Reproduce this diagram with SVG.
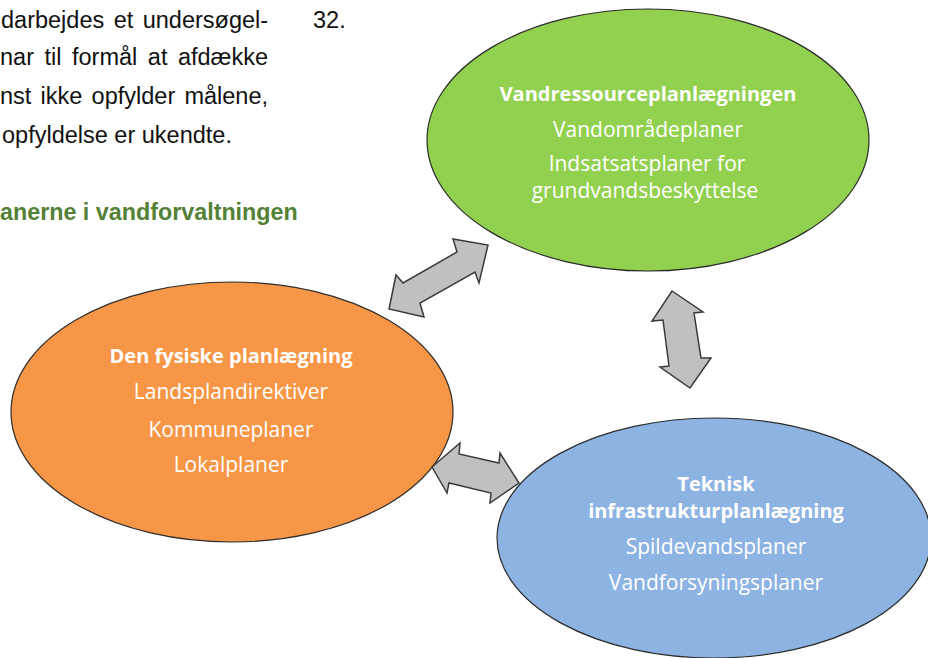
<svg xmlns="http://www.w3.org/2000/svg" width="928" height="658" viewBox="0 0 928 658">
<style>
.body{font-family:"Liberation Sans",Arial,sans-serif;font-size:23.5px;fill:#111}
.head{font-family:"Liberation Sans",Arial,sans-serif;font-size:23.3px;font-weight:bold;fill:#538135}
.ell{stroke:#2b2b2b;stroke-width:1.2}
.t{font-family:"Open Sans",Lato,sans-serif;font-size:21px;fill:#fff;text-anchor:middle}
.tb{font-family:"Open Sans",Lato,sans-serif;font-size:20px;font-weight:bold;fill:#fff;text-anchor:middle}
.arr{fill:#c0c0c0;stroke:#3a3a3a;stroke-width:1.5;stroke-linejoin:miter}
</style>
<rect width="928" height="658" fill="#fff"/>
<g id="page-text">
<text class="body" x="1" y="28" word-spacing="2.9">darbejdes et undersøgel-</text>
<text class="body" x="0" y="65" word-spacing="4">nar til formål at afdække</text>
<text class="body" x="0" y="104" word-spacing="2.7">nst ikke opfylder målene,</text>
<text class="body" x="2" y="143">opfyldelse er ukendte.</text>
<text class="body" x="313" y="28">32.</text>
<text class="head" x="0" y="220">anerne i vandforvaltningen</text>
</g>
<g id="node-vandressource">
<ellipse class="ell" cx="648" cy="140" rx="221" ry="131" fill="#92d050"/>
<text class="tb" x="648" y="101">Vandressourceplanlægningen</text>
<text class="t" x="648" y="137">Vandområdeplaner</text>
<text class="t" x="647" y="171">Indsatsatsplaner for</text>
<text class="t" x="645" y="198">grundvandsbeskyttelse</text>
</g>
<g id="node-fysisk">
<ellipse class="ell" cx="232" cy="412" rx="221" ry="130" fill="#f79646"/>
<text class="tb" x="231" y="363">Den fysiske planlægning</text>
<text class="t" x="231" y="399">Landsplandirektiver</text>
<text class="t" x="231" y="437">Kommuneplaner</text>
<text class="t" x="231" y="472">Lokalplaner</text>
</g>
<g id="node-teknisk">
<ellipse class="ell" cx="714" cy="538" rx="217" ry="120" fill="#8db3e2"/>
<text class="tb" x="716" y="491">Teknisk</text>
<text class="tb" x="716" y="518">infrastrukturplanlægning</text>
<text class="t" x="716" y="554">Spildevandsplaner</text>
<text class="t" x="716" y="590">Vandforsyningsplaner</text>
</g>
<g id="connectors">
<polygon class="arr" points="389,309 396,275 403,283 457,252 453,239 488,245 479,283 475,272 420,303 424,317"/>
<polygon class="arr" points="672,291 703,312 694,313 701,358 711,358 690,388 660,367 669,366 663,320 652,321"/>
<polygon class="arr" points="432,467 460,443 459,454 499,463 500,453 519,483 490,503 491,493 449,483 447,493"/>
</g>
</svg>
